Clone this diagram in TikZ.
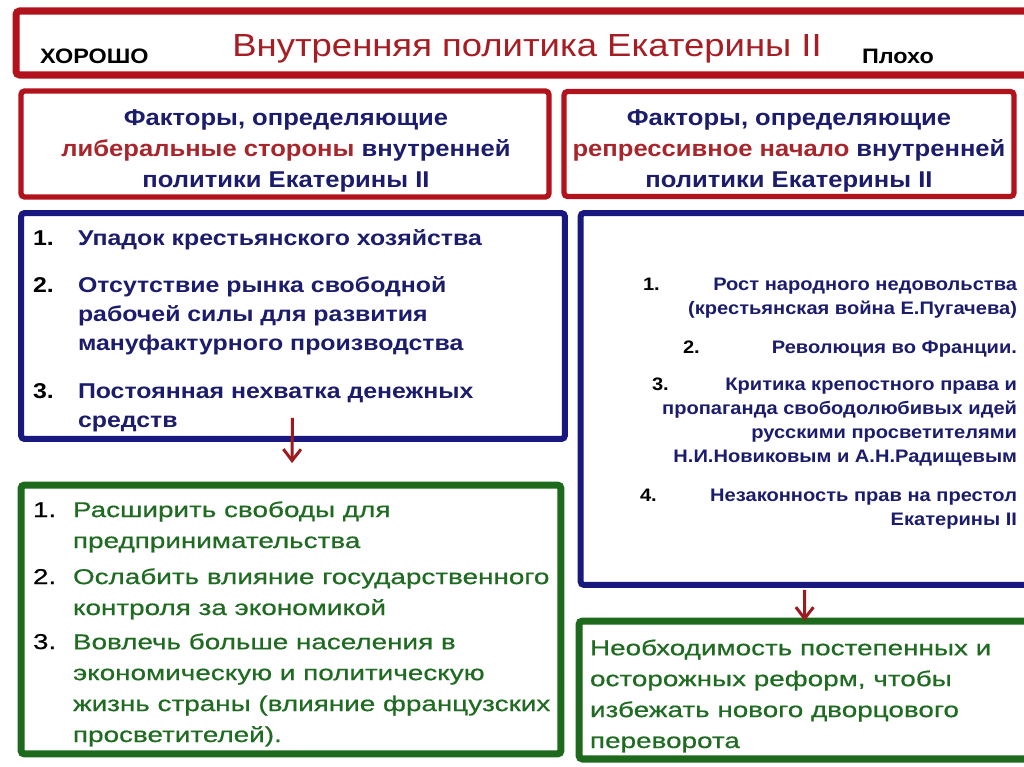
\documentclass[tikz,border=0pt]{standalone}
\usepackage{fontspec}
\setmainfont{Liberation Sans}
\newfontfamily\titlefont[FakeStretch=1.14]{Liberation Sans}
\newfontfamily\headfont[FakeStretch=1.12]{Liberation Sans}
\newfontfamily\listfont[FakeStretch=1.16]{Liberation Sans}
\newfontfamily\sidefont[FakeStretch=1.11]{Liberation Sans}
\newfontfamily\greenfont[FakeStretch=1.3, FakeBold=0.6]{Liberation Sans}
\usepackage{xcolor}
\definecolor{FrameRed}{HTML}{B1121B}
\definecolor{TitleRed}{HTML}{A61D24}
\definecolor{AccentRed}{HTML}{A8262B}
\definecolor{FrameBlue}{HTML}{18187F}
\definecolor{TextBlue}{HTML}{1C1C6C}
\definecolor{FrameGreen}{HTML}{1D6A1D}
\definecolor{TextGreen}{HTML}{206B22}
\definecolor{ArrowRed}{HTML}{9C1B20}
\usetikzlibrary{arrows.meta,positioning}

\begin{document}
\begin{tikzpicture}[x=0.02cm, y=-0.02cm, every node/.style={inner sep=0pt, outer sep=0pt}, frame/.style={draw, rounded corners=2pt, fill=white}, head/.style={font=\headfont\fontsize{13}{17.9}\selectfont\bfseries, text=TextBlue, align=center}, blueitem/.style={anchor=base west, align=left, text=TextBlue, font=\listfont\fontsize{12.2}{16.5}\selectfont\bfseries}, sideitem/.style={anchor=base east, align=right, text=TextBlue, font=\sidefont\fontsize{10.3}{13.65}\selectfont\bfseries}, greenitem/.style={anchor=base west, align=left, text=TextGreen, font=\greenfont\fontsize{12.2}{17.6}\selectfont}, flow/.style={-{Straight Barb[length=6.5pt, width=10pt]}, line width=1.7pt, ArrowRed}]
        \useasboundingbox (0,0) rectangle (1024,767);
        \node[frame, draw=FrameRed, line width=4pt, minimum width=20.28cm, minimum height=1.28cm] (titlebox) at (523,43) {};
        \node[anchor=base, text=TitleRed, font=\titlefont\fontsize{18.2}{22}\selectfont] (title) at (527,57) {Внутренняя политика Екатерины II};
        \node[anchor=base west, font=\headfont\fontsize{11.9}{14}\selectfont\bfseries] (good) at (40,64) {ХОРОШО};
        \node[anchor=base west, font=\headfont\fontsize{11.9}{14}\selectfont\bfseries] (bad) at (862,64) {Плохо};

        \node[frame, draw=FrameRed, line width=3pt, minimum width=10.56cm, minimum height=2.12cm] (lhead) at (285,144) {};
        \node[head] (lheadtext) at (286,151) {Факторы, определяющие\\\textcolor{AccentRed}{либеральные стороны} внутренней\\политики Екатерины II};
        \node[frame, draw=FrameRed, line width=3pt, minimum width=9.0cm, minimum height=2.1cm] (rhead) at (789,144) {};
        \node[head] (rheadtext) at (789,151) {Факторы, определяющие\\\textcolor{AccentRed}{репрессивное начало} внутренней\\политики Екатерины II};

        \node[frame, draw=FrameBlue, line width=3.4pt, minimum width=10.88cm, minimum height=4.52cm] (lcause) at (293,326) {};
        \node[frame, draw=FrameBlue, line width=3.4pt, minimum width=8.98cm, minimum height=7.44cm] (rcause) at (805,399) {};
        \node[frame, draw=FrameGreen, line width=4pt, minimum width=10.8cm, minimum height=5.38cm] (lgoal) at (291,619.5) {};
        \node[frame, draw=FrameGreen, line width=4pt, minimum width=9.02cm, minimum height=2.76cm] (rgoal) at (804.5,690) {};

        \node[blueitem, text=black] (ln1) at (33,245) {1.};
        \node[blueitem] (l1) at (78,245) {Упадок крестьянского хозяйства};
        \node[blueitem, text=black] (ln2) at (33,292) {2.};
        \node[blueitem] (l2) at (78,350) {Отсутствие рынка свободной\\рабочей силы для развития\\мануфактурного производства};
        \node[blueitem, text=black] (ln3) at (33,398) {3.};
        \node[blueitem] (l3) at (78,427) {Постоянная нехватка денежных\\средств};

        \node[sideitem, anchor=base west, text=black] (rn1) at (643,290) {1.};
        \node[sideitem] (r1) at (1017,314) {Рост народного недовольства\\(крестьянская война Е.Пугачева)};
        \node[sideitem, anchor=base west, text=black] (rn2) at (683,353) {2.};
        \node[sideitem] (r2) at (1017,353) {Революция во Франции.};
        \node[sideitem, anchor=base west, text=black] (rn3) at (652,390) {3.};
        \node[sideitem] (r3) at (1017,462) {Критика крепостного права и\\пропаганда свободолюбивых идей\\русскими просветителями\\Н.И.Новиковым и А.Н.Радищевым};
        \node[sideitem, anchor=base west, text=black] (rn4) at (640,501) {4.};
        \node[sideitem] (r4) at (1017,525) {Незаконность прав на престол\\Екатерины II};

        \node[greenitem, text=black] (gn1) at (33,517) {1.};
        \node[greenitem] (g1) at (73,548) {Расширить свободы для\\предпринимательства};
        \node[greenitem, text=black] (gn2) at (33,584) {2.};
        \node[greenitem] (g2) at (73,615) {Ослабить влияние государственного\\контроля за экономикой};
        \node[greenitem, text=black] (gn3) at (33,649) {3.};
        \node[greenitem] (g3) at (73,742) {Вовлечь больше населения в\\экономическую и политическую\\жизнь страны (влияние французских\\просветителей).};

        \node[greenitem] (need) at (590,748) {Необходимость постепенных и\\осторожных реформ, чтобы\\избежать нового дворцового\\переворота};

        \draw[flow, shorten <=-12pt, shorten >=12.5pt] (lcause) -- (lgoal);
        \draw[flow, shorten <=2.8pt] (rcause) -- (rgoal);
    \end{tikzpicture}
\end{document}
